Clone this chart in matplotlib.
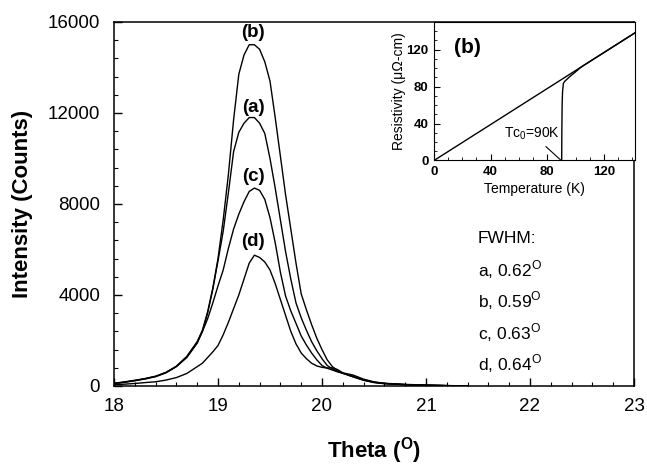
import matplotlib
matplotlib.use("Agg")
import matplotlib.pyplot as plt
from matplotlib.ticker import MultipleLocator

plt.rcParams['font.family'] = ['Liberation Sans', 'DejaVu Sans']
plt.rcParams['mathtext.fontset'] = 'custom'
plt.rcParams['mathtext.rm'] = 'Liberation Sans'
plt.rcParams['mathtext.bf'] = 'Liberation Sans:bold'

# X-ray rocking curves
theta = [18.0, 18.1, 18.2, 18.3, 18.4, 18.5, 18.6, 18.7, 18.8, 18.85,
         18.9, 18.95, 19.0, 19.05, 19.1, 19.15, 19.2, 19.25, 19.3, 19.35,
         19.4, 19.45, 19.5, 19.55, 19.6, 19.65, 19.7, 19.75, 19.8, 19.85,
         19.9, 19.95, 20.0, 20.05, 20.1, 20.15, 20.2, 20.3, 20.4, 20.5,
         20.6, 20.8, 21.0, 21.2, 21.4]
counts_a = [110, 170, 240, 320, 420, 590, 860, 1280, 1920, 2400,
            3200, 4250, 5500, 6800, 8500, 10300, 11150, 11550, 11800, 11800,
            11550, 11100, 10000, 8700, 7300, 5900, 4700, 3650, 3000, 2450,
            1950, 1550, 1200, 900, 750, 640, 560, 400, 250, 150,
            100, 55, 30, 15, 0]
counts_b = [120, 180, 250, 330, 430, 600, 870, 1300, 1950, 2450,
            3250, 4300, 5600, 7300, 9300, 11700, 13700, 14550, 15000, 15000,
            14800, 14250, 13400, 11800, 10100, 8400, 6900, 5400, 4050, 3350,
            2700, 2100, 1600, 1150, 850, 680, 560, 400, 260, 160,
            110, 60, 35, 15, 0]
counts_c = [110, 160, 230, 310, 410, 580, 850, 1250, 1880, 2400,
            2950, 3650, 4400, 5100, 6050, 6900, 7550, 8100, 8550, 8700,
            8600, 8200, 7400, 6300, 5000, 3950, 3300, 2750, 2200, 1800,
            1450, 1150, 900, 780, 700, 620, 560, 430, 270, 170,
            110, 60, 35, 15, 0]
counts_d = [60, 80, 110, 150, 185, 260, 370, 550, 850, 1000,
            1250, 1500, 1780, 2250, 2800, 3400, 4000, 4700, 5400, 5750,
            5650, 5450, 5100, 4500, 3800, 3100, 2400, 1850, 1450, 1200,
            1000, 880, 820, 790, 800, 720, 580, 480, 300, 180,
            120, 70, 40, 20, 0]

peak_labels = ['(b)', '(a)', '(c)', '(d)']
peak_label_y = [15550, 12250, 9200, 6330]
fwhm_lines = ['FWHM:', 'a, 0.62$^{\\rm O}$', 'b, 0.59$^{\\rm O}$',
              'c, 0.63$^{\\rm O}$', 'd, 0.64$^{\\rm O}$']

# inset: resistivity vs temperature
temp_line = [0, 142]
rho_line = [0, 138.3]
temp_meas = [90.2, 90.3, 90.5, 90.8, 91.4, 92.5, 93.8, 96, 99.6, 104, 142]
rho_meas = [0, 30, 60, 74.5, 83.6, 86, 87.8, 91, 95.5, 101.3, 138.3]

fig = plt.figure(figsize=(6.47, 4.66), dpi=100)
ax = fig.add_axes([0.1762, 0.1717, 0.8037, 0.7811])

for y in [counts_a, counts_b, counts_c, counts_d]:
    ax.plot(theta, y, color='black', lw=1.0)

ax.set_xlim(18, 23)
ax.set_ylim(0, 16000)
ax.xaxis.set_major_locator(MultipleLocator(1))
ax.xaxis.set_minor_locator(MultipleLocator(0.2))
ax.yaxis.set_major_locator(MultipleLocator(4000))
ax.yaxis.set_minor_locator(MultipleLocator(800))
ax.tick_params(which='both', direction='in', labelsize=13.5)
ax.tick_params(which='major', length=6, width=1.0)
ax.tick_params(which='minor', length=3, width=0.8)
ax.tick_params(axis='x', pad=9)
ax.tick_params(axis='y', pad=10)
for s in ax.spines.values():
    s.set_linewidth(1.1)

for lab, y in zip(peak_labels, peak_label_y):
    ax.text(19.34, y, lab, ha='center', va='center', fontsize=13.5,
            fontweight='bold')

for i, t in enumerate(fwhm_lines):
    ax.text(21.5, 6500 - i * 1385, t, ha='left', va='center', fontsize=12.5)

fig.text(23 / 647, 1 - 204 / 466, 'Intensity (Counts)', rotation=90,
         ha='center', va='center', fontsize=16, fontweight='bold')
fig.text(374 / 647, 1 - 451 / 466, 'Theta ($^{\\mathbf{O}}$)',
         ha='center', va='center', fontsize=16, fontweight='bold')

# inset
ins = fig.add_axes([0.6708, 0.6556, 0.3107, 0.2972])
ins.plot(temp_line, rho_line, color='black', lw=1.0)
ins.plot(temp_meas, rho_meas, color='black', lw=1.0)
ins.set_xlim(0, 142)
ins.set_ylim(0, 150)
ins.xaxis.set_major_locator(MultipleLocator(40))
ins.xaxis.set_minor_locator(MultipleLocator(10))
ins.yaxis.set_major_locator(MultipleLocator(40))
ins.yaxis.set_minor_locator(MultipleLocator(10))
ins.tick_params(which='both', direction='in', labelsize=9.5, pad=4)
ins.tick_params(which='major', length=4)
ins.tick_params(which='minor', length=2)
for lbl in ins.get_xticklabels() + ins.get_yticklabels():
    lbl.set_fontweight('bold')
ins.set_xlabel('Temperature (K)', fontsize=10, labelpad=3)
ins.set_ylabel('Resistivity (\u03bc\u2126-cm)', fontsize=10, labelpad=0)
ins.text(23.7, 122, '(b)', ha='center', va='center', fontsize=15,
         fontweight='bold')
ins.annotate('Tc$_0$=90K', xy=(89.5, 0.5), xytext=(69, 29),
             ha='center', va='center', fontsize=10,
             arrowprops=dict(arrowstyle='-', lw=0.8, color='black',
                             shrinkA=2, shrinkB=0))

fig.savefig('out.png', dpi=100)
